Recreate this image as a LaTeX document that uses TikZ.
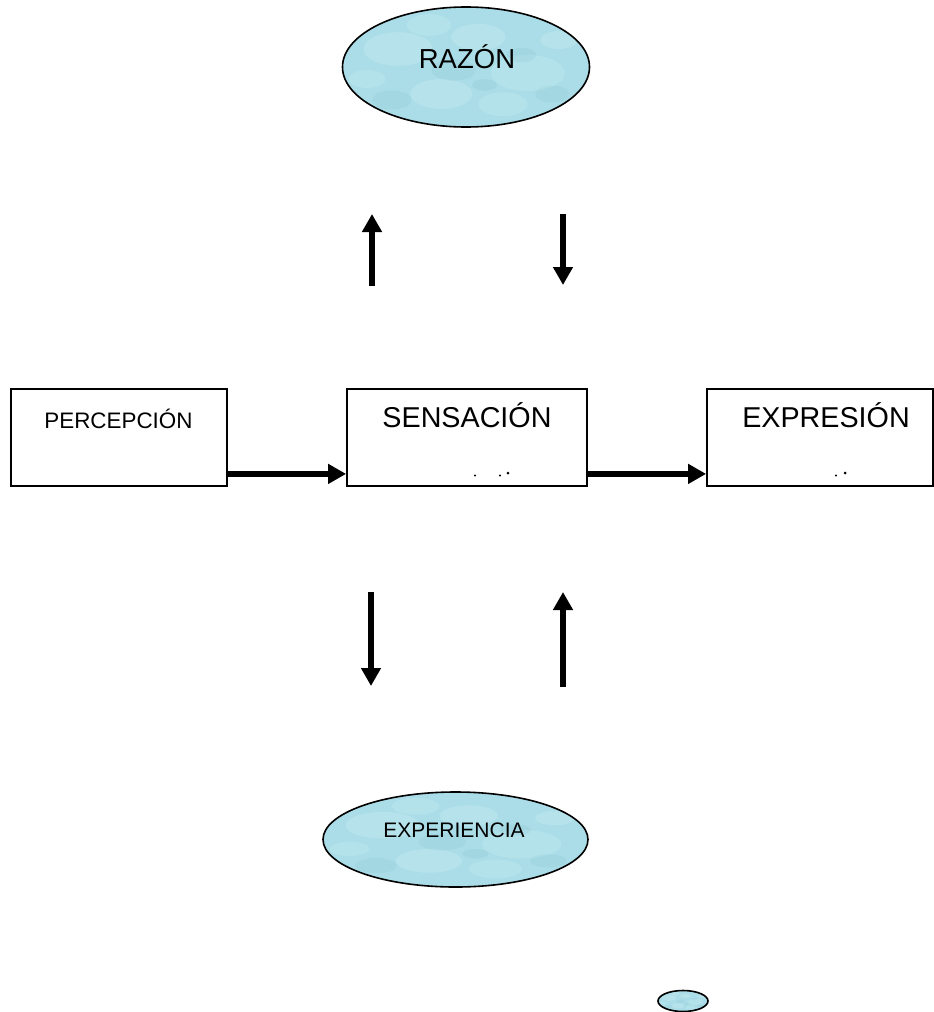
\documentclass[tikz,border=0pt]{standalone}
\usepackage{fontspec}
\setmainfont{Liberation Sans}
\usetikzlibrary{shapes.geometric,arrows.meta,calc}

\definecolor{aqua}{RGB}{170,221,231}
\definecolor{aqualight}{RGB}{212,241,246}
\definecolor{aquadark}{RGB}{132,195,210}

% mottled "water drop" texture inside an ellipse; #1 = x radius, #2 = y radius
\newcommand\waterblobs[2]{%
  \foreach \fx/\fy/\fr/\op in {-0.55/-0.30/0.28/0.30, 0.10/-0.50/0.22/0.28,
      0.50/0.10/0.30/0.25, -0.20/0.45/0.25/0.28, 0.75/-0.45/0.15/0.28,
      -0.80/0.20/0.15/0.25, 0.30/0.62/0.20/0.25, -0.30/-0.70/0.18/0.25}{%
    \fill[aqualight,opacity=\op] ($(path picture bounding box.center)+(\fx*#1,\fy*#2)$)
      ellipse [x radius={\fr*#1*1pt}, y radius={\fr*#2*1pt}];
  }%
  \foreach \fx/\fy/\fr/\op in {-0.10/0.05/0.18/0.18, 0.45/-0.20/0.12/0.20,
      -0.60/0.55/0.16/0.18, 0.15/0.30/0.10/0.20, 0.70/0.45/0.14/0.18}{%
    \fill[aquadark,opacity=\op] ($(path picture bounding box.center)+(\fx*#1,\fy*#2)$)
      ellipse [x radius={\fr*#1*1pt}, y radius={\fr*#2*1pt}];
  }%
}

\tikzset{
  stagebox/.style={draw=black, line width=1.8pt, fill=white, inner sep=0pt,
    minimum height=97pt},
  drop/.style 2 args={ellipse, draw=black, line width=1.6pt, fill=aqua,
    inner sep=0pt, minimum width=2*#1*1pt, minimum height=2*#2*1pt,
    path picture={\waterblobs{#1}{#2}}},
  lbl/.style={inner sep=0pt, anchor=base, text=black},
  bigarrow/.style={line width=6pt, -{Triangle[width=19pt,length=18pt]}},
  speck/.style={fill=black},
}

\begin{document}
\begin{tikzpicture}[x=1pt,y=-1pt]
  \fill[white] (0,0) rectangle (934,1012);
  \useasboundingbox (0,0) rectangle (934,1012);

  % ellipses
  \node[drop={123.5}{60}] (razon) at (466,67) {};
  \node[lbl, font=\fontsize{27.5}{32}\selectfont] (razont) at (467,68) {RAZÓN};

  \node[drop={132.5}{47.5}] (exper) at (455.5,839.5) {};
  \node[lbl, font=\fontsize{21}{25}\selectfont] (expert) at (454,837) {EXPERIENCIA};

  \node[drop={25}{10.5}] (mini) at (683,1001) {};

  % stage boxes
  \node[stagebox, minimum width=216pt] (perc) at (119,437.5) {};
  \node[stagebox, minimum width=240pt] (sens) at (467,437.5) {};
  \node[stagebox, minimum width=226pt] (expr) at (820,437.5) {};

  \node[lbl, font=\fontsize{22.4}{26}\selectfont] (perct) at (118.5,428) {PERCEPCIÓN};
  \node[lbl, font=\fontsize{28.7}{33}\selectfont] (senst) at (467,427) {SENSACIÓN};
  \node[lbl, font=\fontsize{28.7}{33}\selectfont] (exprt) at (826,427) {EXPRESIÓN};

  % stray specks near the bottom of the boxes
  \fill[speck] (475,475.5) circle (1.2pt);
  \fill[speck] (500,475.5) circle (1.2pt);
  \fill[speck] (508,473) circle (1.5pt);
  \fill[speck] (836,475.5) circle (1.2pt);
  \fill[speck] (845,473) circle (1.5pt);

  % horizontal flow
  \draw[bigarrow] ([yshift=13pt]perc.south east) -- ([yshift=13pt]sens.south west);
  \draw[bigarrow] ([yshift=13pt]sens.south east) -- ([yshift=13pt]expr.south west);

  % vertical exchanges with RAZÓN and EXPERIENCIA
  \coordinate (uaS) at (372,286);
  \coordinate (uaE) at (372,214);
  \coordinate (daS) at (563,214);
  \coordinate (daE) at (563,285);
  \coordinate (dbS) at (371,592);
  \coordinate (dbE) at (371,686);
  \coordinate (ubS) at (563,687);
  \coordinate (ubE) at (563,592);

  \draw[bigarrow] (uaS) -- (uaE);
  \draw[bigarrow] (daS) -- (daE);
  \draw[bigarrow] (dbS) -- (dbE);
  \draw[bigarrow] (ubS) -- (ubE);
\end{tikzpicture}
\end{document}
